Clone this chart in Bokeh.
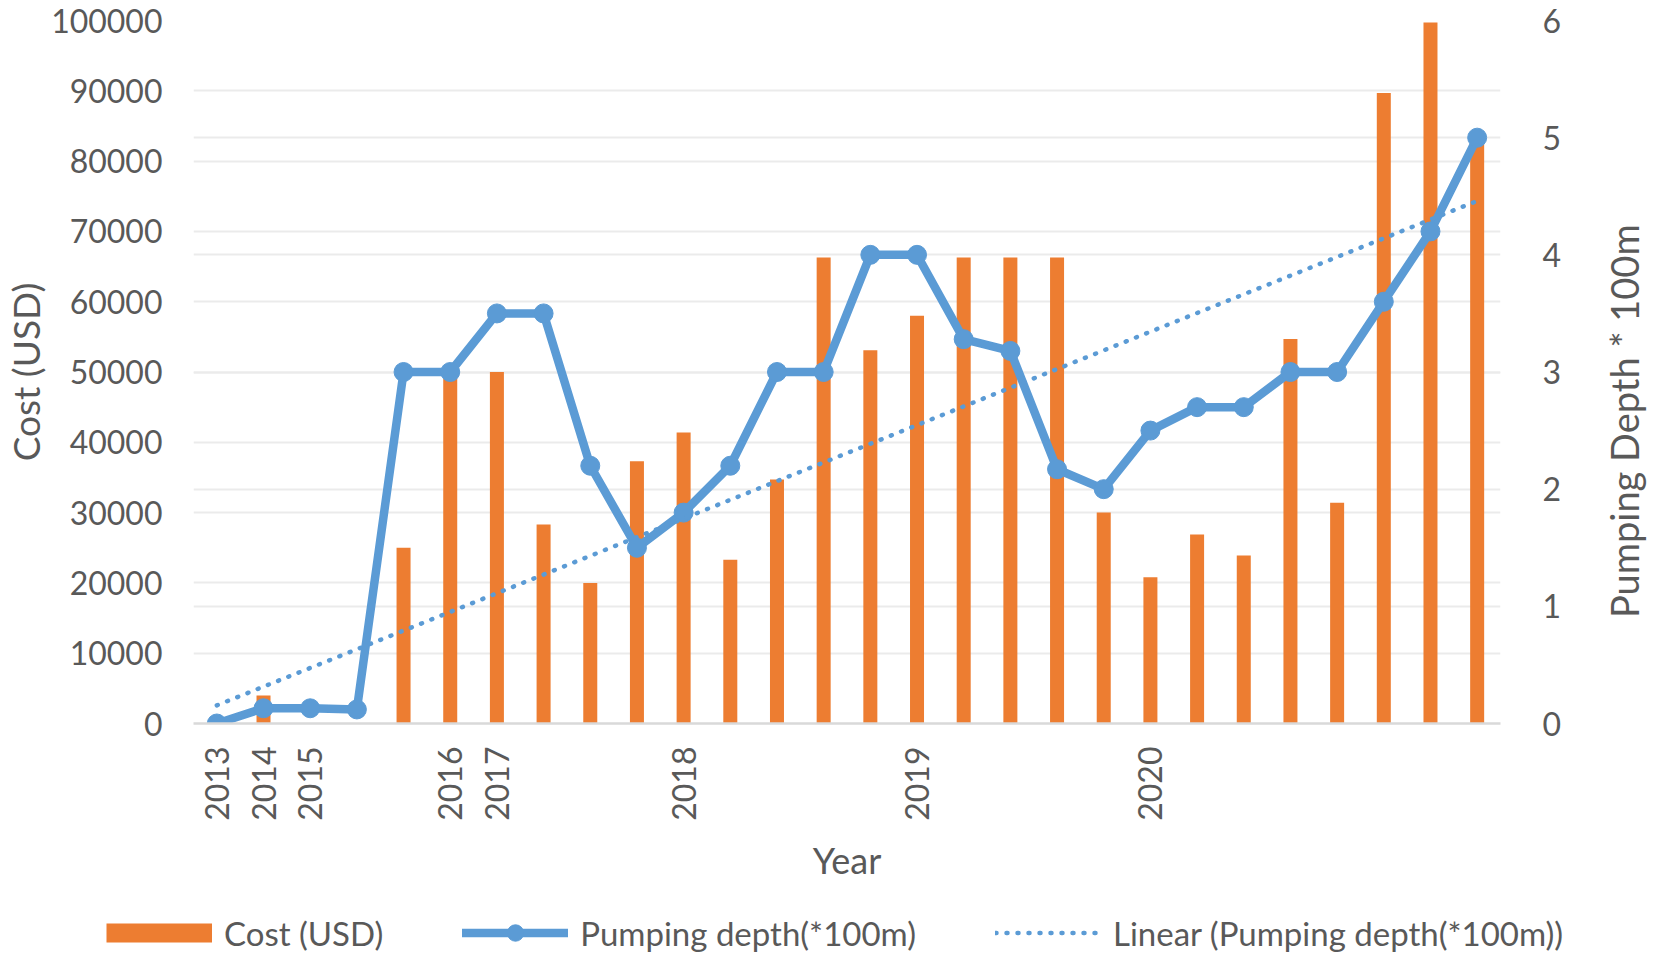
import math
from bokeh.plotting import figure
from bokeh.layouts import column, row
from bokeh.models import (Range1d, LinearAxis, FixedTicker, Grid, Legend, LegendItem, Label,
                          ColumnDataSource, NumeralTickFormatter)
from bokeh.embed import file_html
from bokeh.resources import INLINE

# ---------------- data ----------------
categories = ["2013", "2014", "2015", "", "", "2016", "2017", "", "", "", "2018", "", "", "", "",
              "2019", "", "", "", "", "2020", "", "", "", "", "", "", ""]
cost_usd = [0, 4000, 0, 0, 25000, 50000, 50000, 28300, 20000, 37300, 41400, 23300, 34700, 66300,
            53100, 58000, 66300, 66300, 66300, 30000, 20800, 26900, 23900, 54700, 31400, 89700,
            99700, 82500]
pumping_depth = [0, 0.13, 0.13, 0.12, 3.0, 3.0, 3.5, 3.5, 2.2, 1.5, 1.8, 2.2, 3.0, 3.0, 4.0, 4.0,
                 3.28, 3.18, 2.17, 2.0, 2.5, 2.7, 2.7, 3.0, 3.0, 3.6, 4.2, 5.0]
trend_index = [0, 27]          # first and last category
trend_depth = [0.155, 4.46]    # linear trend line end values
cost_ticks = [0, 10000, 20000, 30000, 40000, 50000, 60000, 70000, 80000, 90000, 100000]
depth_ticks = [0, 1, 2, 3, 4, 5, 6]
series_names = ["Cost (USD)", "Pumping depth(*100m)", "Linear (Pumping depth(*100m))"]

FONT = "Lato"
TEXT = "#595959"
GRID = "#ebebeb"
ORANGE = "#ed7d31"
BLUE = "#5b9bd5"

MAIN_W, MAIN_H = 1564, 893
RIGHT_W = 1649 - MAIN_W
LEG_H = 953 - MAIN_H
NAN = float("nan")

idx = list(range(len(categories)))
src = ColumnDataSource(dict(x=idx, cost=cost_usd, depth=pumping_depth))

cost_max = cost_ticks[-1]
depth_max = depth_ticks[-1]

# ---------------- main chart ----------------
p = figure(width=MAIN_W, height=MAIN_H, output_backend="svg", toolbar_location=None,
           x_range=Range1d(-0.5, len(categories) - 0.5), y_range=Range1d(0, cost_max),
           min_border_left=185, min_border_right=60, min_border_top=20, min_border_bottom=170)
p.outline_line_color = None
p.background_fill_color = "white"
p.border_fill_color = "white"
p.extra_y_ranges = {"depth": Range1d(0, depth_max)}

p.xgrid.visible = False
p.ygrid.ticker = FixedTicker(ticks=cost_ticks)
p.ygrid.grid_line_color = GRID
p.ygrid.grid_line_width = 2
p.add_layout(Grid(dimension=1, ticker=FixedTicker(ticks=[t * cost_max / depth_max for t in depth_ticks]),
                  grid_line_color=GRID, grid_line_width=2))

xa = p.xaxis[0]
xa.ticker = FixedTicker(ticks=[i for i, c in enumerate(categories) if c])
xa.major_label_overrides = {i: c for i, c in enumerate(categories) if c}
xa.major_label_orientation = math.pi / 2
xa.major_label_text_font = FONT
xa.major_label_text_font_size = "32px"
xa.major_label_text_color = TEXT
xa.major_label_standoff = 17
xa.major_tick_line_color = None
xa.minor_tick_line_color = None
xa.axis_line_color = "#d9d9d9"
xa.axis_line_width = 2.5
xa.axis_label = "Year"
xa.axis_label_text_font = FONT
xa.axis_label_text_font_size = "36px"
xa.axis_label_text_font_style = "normal"
xa.axis_label_text_color = TEXT
xa.axis_label_standoff = 14

ya = p.yaxis[0]
ya.ticker = FixedTicker(ticks=cost_ticks)
ya.formatter = NumeralTickFormatter(format="0")
ya.major_label_text_font = FONT
ya.major_label_text_font_size = "32px"
ya.major_label_text_color = TEXT
ya.major_label_standoff = 25
ya.major_tick_line_color = None
ya.minor_tick_line_color = None
ya.axis_line_color = None
ya.axis_label = "Cost (USD)"
ya.axis_label_text_font = FONT
ya.axis_label_text_font_size = "37px"
ya.axis_label_text_font_style = "normal"
ya.axis_label_text_color = TEXT
ya.axis_label_standoff = 0

ra = LinearAxis(y_range_name="depth", ticker=FixedTicker(ticks=depth_ticks))
ra.major_label_text_font = FONT
ra.major_label_text_font_size = "32px"
ra.major_label_text_color = TEXT
ra.major_label_standoff = 36
ra.major_tick_line_color = None
ra.minor_tick_line_color = None
ra.axis_line_color = None
p.add_layout(ra, "right")

bars = p.vbar(x="x", top="cost", width=0.3, source=src, fill_color=ORANGE, line_color=None)
line_r = p.line(x="x", y="depth", source=src, y_range_name="depth", line_color=BLUE,
                line_width=8.5, line_join="round")
mark_r = p.scatter(x="x", y="depth", source=src, y_range_name="depth", size=19,
                   fill_color=BLUE, line_color=BLUE)
trend_r = p.line(x=trend_index, y=trend_depth, y_range_name="depth", line_color=BLUE,
                 line_width=4.5, line_dash="1 10", line_cap="round")

# ---------------- right axis title (frame is aligned with the main frame) ----------------
rt = figure(width=RIGHT_W, height=MAIN_H, output_backend="svg", toolbar_location=None,
            x_range=Range1d(0, RIGHT_W), y_range=Range1d(0, 1),
            x_axis_location=None, y_axis_location=None, min_border=0)
rt.outline_line_color = None
rt.grid.visible = False
rt.add_layout(Label(x=RIGHT_W - 26, y=0.43, text="Pumping Depth * 100m", angle=math.pi / 2,
                    text_align="center", text_baseline="middle", text_font=FONT,
                    text_font_size="38px", text_color=TEXT))

# ---------------- legend strip ----------------
lg = figure(width=1649, height=LEG_H, output_backend="svg", toolbar_location=None,
            x_range=Range1d(0, 1), y_range=Range1d(0, 1),
            x_axis_location=None, y_axis_location=None, min_border=0)
lg.outline_line_color = None
lg.grid.visible = False
sw_cost = lg.line(x=[NAN], y=[NAN], line_color=ORANGE, line_width=19, line_cap="butt")
sw_line = lg.line(x=[NAN], y=[NAN], line_color=BLUE, line_width=8.5, line_cap="round")
sw_mark = lg.scatter(x=[NAN], y=[NAN], size=15, fill_color=BLUE, line_color=BLUE)
sw_trend = lg.line(x=[NAN], y=[NAN], line_color=BLUE, line_width=4.5, line_dash="1 10",
                   line_cap="round")
legend = Legend(items=[
    LegendItem(label=series_names[0], renderers=[sw_cost]),
    LegendItem(label=series_names[1], renderers=[sw_line, sw_mark]),
    LegendItem(label=series_names[2], renderers=[sw_trend]),
], orientation="horizontal", location=(106, 0), border_line_color=None,
    background_fill_alpha=0, padding=0, margin=0, spacing=79, label_standoff=12,
    glyph_width=106, glyph_height=41, label_text_font=FONT, label_text_font_size="33px",
    label_text_color=TEXT)
lg.add_layout(legend)

layout = column(row(p, rt), lg)
open("out.html", "w").write(file_html(layout, INLINE))
